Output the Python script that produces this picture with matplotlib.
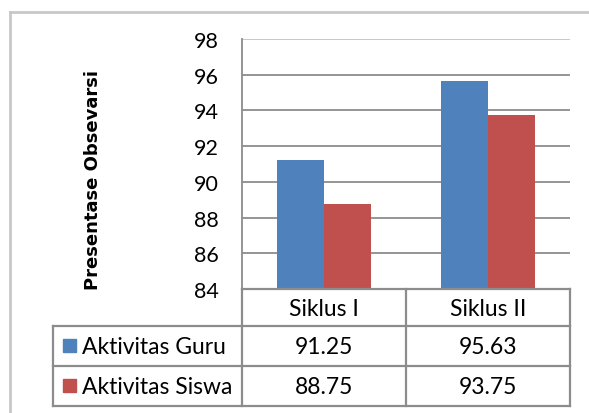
import matplotlib.pyplot as plt
import numpy as np

plt.rcParams['font.family'] = ['Lato', 'DejaVu Sans']

# data
categories = ['Siklus I', 'Siklus II']
series_names = ['Aktivitas Guru', 'Aktivitas Siswa']
guru = [91.25, 95.63]
siswa = [88.75, 93.75]
y_ticks = [84, 86, 88, 90, 92, 94, 96, 98]
colors = ['#4F81BD', '#C0504D']

W, H = 589, 414
fig = plt.figure(figsize=(W / 100, H / 100), dpi=100)

def fx(px):
    return px / W

def fy(py):
    return 1 - py / H

# plot area in pixel coords
left, right, top, bottom = 242, 570, 40, 290
ax = fig.add_axes([fx(left), fy(bottom), fx(right - left), (bottom - top) / H])

x = np.arange(len(categories))
bw = 0.285
ax.bar(x - bw / 2, guru, bw, color=colors[0])
ax.bar(x + bw / 2, siswa, bw, color=colors[1])
ax.set_ylim(84, 98)
ax.set_xlim(-0.5, len(categories) - 0.5)
ax.set_yticks(y_ticks)
ax.set_yticklabels([str(v) for v in y_ticks], fontsize=15.5)
ax.tick_params(axis='y', length=0, pad=17)
ax.set_xticks([])
for v in y_ticks[1:]:
    ax.axhline(v, color='#c4c4c4' if v == y_ticks[-1] else '#8c8c8c', lw=1.3, zorder=0)
for s in ['top', 'right', 'bottom']:
    ax.spines[s].set_visible(False)
ax.spines['left'].set_color('#8c8c8c')
ax.spines['left'].set_linewidth(1.3)

fig.text(fx(93), fy(180), 'Presentase Obsevarsi', rotation=90, ha='center',
         va='center', fontsize=13, fontweight='bold', family=['DejaVu Sans'])

# data table
tcol = '#8c8c8c'
col_x = [left, 406, right]
rows_y = [290, 327, 367, 407]
tab_left = 53
fs = 16.5

def hline(y, x0, x1):
    fig.add_artist(plt.Line2D([fx(x0), fx(x1)], [fy(y), fy(y)], color=tcol, lw=1.6))

def vline(x0, y0, y1):
    fig.add_artist(plt.Line2D([fx(x0), fx(x0)], [fy(y0), fy(y1)], color=tcol, lw=1.6))

hline(rows_y[0], left, right)
hline(rows_y[1], tab_left, right)
hline(rows_y[2], tab_left, right)
hline(rows_y[3], tab_left, right)
for cx in col_x:
    vline(cx, rows_y[0], rows_y[3])
vline(tab_left, rows_y[1], rows_y[3])

for i, c in enumerate(categories):
    fig.text(fx((col_x[i] + col_x[i + 1]) / 2), fy((rows_y[0] + rows_y[1]) / 2 + 1), c,
             ha='center', va='center', fontsize=fs)

for r, (name, vals) in enumerate(zip(series_names, [guru, siswa])):
    yc = (rows_y[r + 1] + rows_y[r + 2]) / 2
    fig.patches.append(plt.Rectangle((fx(63), fy(yc + 6)), fx(13), 13 / H,
                                     transform=fig.transFigure, color=colors[r]))
    fig.text(fx(82), fy(yc + 1), name, ha='left', va='center', fontsize=fs)
    for i, v in enumerate(vals):
        fig.text(fx((col_x[i] + col_x[i + 1]) / 2), fy(yc + 1), f'{v:.2f}',
                 ha='center', va='center', fontsize=fs)

# outer chart border
fig.add_artist(plt.Line2D([fx(10), fx(10)], [fy(13), 0], color='#c8c8c8', lw=2))
fig.add_artist(plt.Line2D([fx(10), 1], [fy(13), fy(13)], color='#c8c8c8', lw=2))

plt.savefig('out.png', dpi=100)
